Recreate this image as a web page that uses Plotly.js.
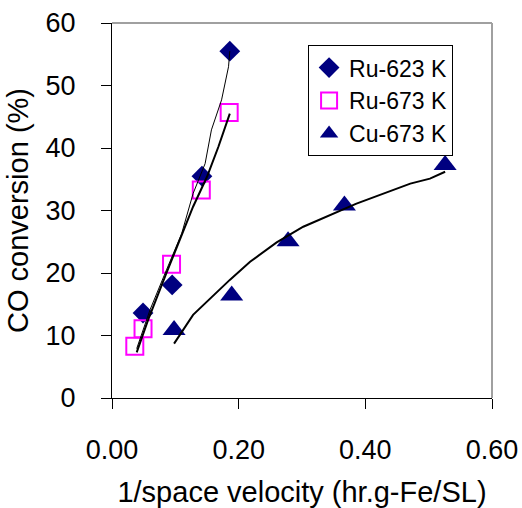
<!DOCTYPE html>
<html>
<head>
<meta charset="utf-8">
<script src="https://cdn.plot.ly/plotly-3.0.1.min.js"></script>
<style>html,body{margin:0;padding:0;background:#fff;}#chart{width:522px;height:508px;}</style>
</head>
<body>
<div id="chart"></div>
<script>
// Measured points
const ru623X = [0.049, 0.095, 0.142, 0.186];
const ru623Y = [13.6, 18.1, 35.5, 55.5];
const ru673X = [0.036, 0.049, 0.094, 0.141, 0.185];
const ru673Y = [8.3, 11.1, 21.4, 33.3, 45.7];
const cu673X = [0.098, 0.189, 0.278, 0.367, 0.526];
const cu673Y = [10.9, 16.4, 25.1, 30.8, 37.3];

// Curves drawn through the data
const ru623LineX = [0.039, 0.060, 0.086, 0.110, 0.128, 0.147, 0.157, 0.173, 0.184, 0.186];
const ru623LineY = [7.9, 14.1, 20.5, 26.3, 32.7, 37.5, 42.9, 47.7, 53.0, 55.5];
const ru673LineX = [0.039, 0.057, 0.086, 0.107, 0.128, 0.150, 0.168, 0.186];
const ru673LineY = [7.3, 12.5, 20.0, 25.3, 30.6, 35.4, 40.2, 45.5];
const cu673LineX = [0.098, 0.128, 0.186, 0.218, 0.260, 0.302, 0.386, 0.471, 0.502, 0.526];
const cu673LineY = [8.7, 13.3, 18.9, 21.8, 24.9, 27.4, 31.1, 34.3, 35.1, 36.2];

const seriesNames = ["Ru-623 K", "Ru-673 K", "Cu-673 K"];
const xTickVals = [0, 0.2, 0.4, 0.6];
const yTickVals = [0, 10, 20, 30, 40, 50, 60];

const FONT = "Liberation Sans, Arial, sans-serif";
const navy = "#000080";
const magenta = "#FF00FF";

const traces = [
  {x: ru623X, y: ru623Y, name: seriesNames[0], type: "scatter", mode: "markers",
   marker: {symbol: "diamond", size: 16, color: navy}},
  {x: ru673X, y: ru673Y, name: seriesNames[1], type: "scatter", mode: "markers",
   marker: {symbol: "square-open", size: 17, color: magenta, line: {width: 2, color: magenta}}},
  {x: cu673X, y: cu673Y, name: seriesNames[2], type: "scatter", mode: "markers",
   marker: {symbol: "triangle-up", size: 20, color: navy}},
  {x: ru623LineX, y: ru623LineY, type: "scatter", mode: "lines", showlegend: false,
   line: {color: "#000", width: 1}, hoverinfo: "skip"},
  {x: ru673LineX, y: ru673LineY, type: "scatter", mode: "lines", showlegend: false,
   line: {color: "#000", width: 2}, hoverinfo: "skip"},
  {x: cu673LineX, y: cu673LineY, type: "scatter", mode: "lines", showlegend: false,
   line: {color: "#000", width: 2}, hoverinfo: "skip"}
];

const layout = {
  width: 522, height: 508,
  margin: {l: 112, r: 30, t: 23, b: 110},
  paper_bgcolor: "#fff", plot_bgcolor: "#fff",
  font: {family: FONT, color: "#000", size: 26},
  showlegend: true,
  legend: {
    x: 0.516, y: 0.941, xanchor: "left", yanchor: "top",
    bgcolor: "#fff", bordercolor: "#000", borderwidth: 1,
    font: {family: FONT, size: 23, color: "#000"},
    tracegroupgap: 0, itemsizing: "trace"
  },
  xaxis: {
    range: [0, 0.6], tickvals: xTickVals, tickformat: ".2f",
    showgrid: false, zeroline: false, showline: true, linecolor: "#000", linewidth: 1,
    ticks: "outside", ticklen: 10, tickcolor: "#000", tickwidth: 1,
    ticklabelstandoff: 18,
    tickfont: {family: FONT, size: 27, color: "#000"},
    title: {text: "1/space velocity (hr.g-Fe/SL)", font: {family: FONT, size: 29, color: "#000"}, standoff: 18},
    automargin: false, fixedrange: true
  },
  yaxis: {
    range: [0, 60], tickvals: yTickVals,
    showgrid: false, zeroline: false, showline: true, linecolor: "#000", linewidth: 1,
    ticks: "outside", ticklen: 10, tickcolor: "#000", tickwidth: 1,
    ticklabelstandoff: 20,
    tickfont: {family: FONT, size: 27, color: "#000"},
    title: {text: "CO conversion (%)", font: {family: FONT, size: 29, color: "#000"}, standoff: 8},
    automargin: false, fixedrange: true
  },
  shapes: [
    {type: "line", xref: "paper", yref: "paper", x0: 0, x1: 1, y0: 1, y1: 1, line: {color: "#a0a0a0", width: 2}},
    {type: "line", xref: "paper", yref: "paper", x0: 1, x1: 1, y0: 0, y1: 1, line: {color: "#a0a0a0", width: 2}}
  ]
};

Plotly.newPlot("chart", traces, layout, {staticPlot: true, displayModeBar: false});
</script>
</body>
</html>
